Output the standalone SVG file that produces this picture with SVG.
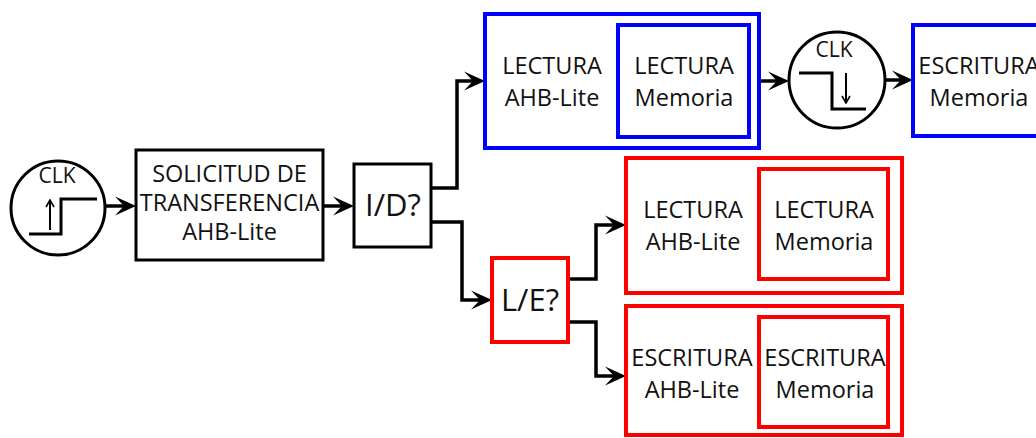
<svg xmlns="http://www.w3.org/2000/svg" width="1036" height="438" viewBox="0 0 1036 438">
<style>
text{font-family:"Open Sans","Liberation Sans",sans-serif;fill:#111;text-anchor:middle}
.t{font-size:23.5px}
.c{font-size:21px}
.q{font-size:31px}
.bk{fill:#fff;stroke:#000;stroke-width:3}
.bl{fill:none;stroke:#0000ff;stroke-width:4}
.rd{fill:none;stroke:#ff0000;stroke-width:4}
.ln{fill:none;stroke:#000;stroke-width:3}
.thin{fill:none;stroke:#000;stroke-width:2}
.cn{fill:none;stroke:#000;stroke-width:3.5;stroke-linejoin:miter}
</style>
<defs>
<marker id="ah" viewBox="-22 -11 22 22" refX="-8" refY="0" markerWidth="22" markerHeight="22" markerUnits="userSpaceOnUse" orient="auto">
<path d="M0,0 L-21,-9.5 L-12,0 L-21,9.5 Z" fill="#000"/>
</marker>
<marker id="sa" viewBox="-9 -6 10 12" refX="0" refY="0" markerWidth="10" markerHeight="12" markerUnits="userSpaceOnUse" orient="auto">
<path d="M-7,-4 L0,0 L-7,4" fill="none" stroke="#000" stroke-width="1.6"/>
</marker>
</defs>
<g id="connectors">
<path class="cn" d="M105,206 H128" marker-end="url(#ah)"/>
<path class="cn" d="M323,206 H346" marker-end="url(#ah)"/>
<path class="cn" d="M431,188 H457 V81 H477" marker-end="url(#ah)"/>
<path class="cn" d="M431,222 H462 V300 H484" marker-end="url(#ah)"/>
<path class="cn" d="M761,81 H781" marker-end="url(#ah)"/>
<path class="cn" d="M885,80 H905" marker-end="url(#ah)"/>
<path class="cn" d="M568,279 H596 V225 H618" marker-end="url(#ah)"/>
<path class="cn" d="M568,322 H596 V376 H618" marker-end="url(#ah)"/>
</g>
<g id="clk1">
<circle class="bk" cx="58" cy="208" r="47"/>
<text class="c" x="57" y="183">CLK</text>
<path class="ln" d="M29,234 H61 V199 H97"/>
<path class="thin" d="M50,230 V200" marker-end="url(#sa)"/>
</g>
<g id="solicitud">
<rect class="bk" x="136" y="150" width="187" height="110"/>
<text class="t" x="229.5" y="182">SOLICITUD DE</text>
<text class="t" x="229.5" y="211">TRANSFERENCIA</text>
<text class="t" x="229.5" y="240">AHB-Lite</text>
</g>
<g id="id">
<rect class="bk" x="354" y="164" width="77" height="83"/>
<text class="q" x="393" y="216">I/D?</text>
</g>
<g id="lectura-blue">
<rect class="bl" x="485" y="14" width="274" height="134"/>
<rect class="bl" x="618" y="25" width="131" height="112"/>
<text class="t" x="552" y="74">LECTURA</text>
<text class="t" x="552" y="106">AHB-Lite</text>
<text class="t" x="684" y="74">LECTURA</text>
<text class="t" x="684" y="106">Memoria</text>
</g>
<g id="clk2">
<circle class="bk" cx="837" cy="80" r="48"/>
<text class="c" x="834" y="57">CLK</text>
<path class="ln" d="M799,73 H832 V109 H866"/>
<path class="thin" d="M846,73 V103" marker-end="url(#sa)"/>
</g>
<g id="escritura-blue">
<rect class="bl" x="913" y="25" width="131" height="111"/>
<text class="t" x="979" y="74">ESCRITURA</text>
<text class="t" x="979" y="106">Memoria</text>
</g>
<g id="le">
<rect class="rd" x="492" y="258" width="76" height="84" fill="#fff"/>
<text class="q" x="530" y="311">L/E?</text>
</g>
<g id="lectura-red">
<rect class="rd" x="626" y="158" width="276" height="135"/>
<rect class="rd" x="759" y="169" width="129" height="110"/>
<text class="t" x="693" y="218">LECTURA</text>
<text class="t" x="693" y="250">AHB-Lite</text>
<text class="t" x="824" y="218">LECTURA</text>
<text class="t" x="824" y="250">Memoria</text>
</g>
<g id="escritura-red">
<rect class="rd" x="626" y="306" width="276" height="129"/>
<rect class="rd" x="759" y="317" width="129" height="110"/>
<text class="t" x="692" y="366">ESCRITURA</text>
<text class="t" x="692" y="398">AHB-Lite</text>
<text class="t" x="825" y="366">ESCRITURA</text>
<text class="t" x="825" y="398">Memoria</text>
</g>
</svg>
